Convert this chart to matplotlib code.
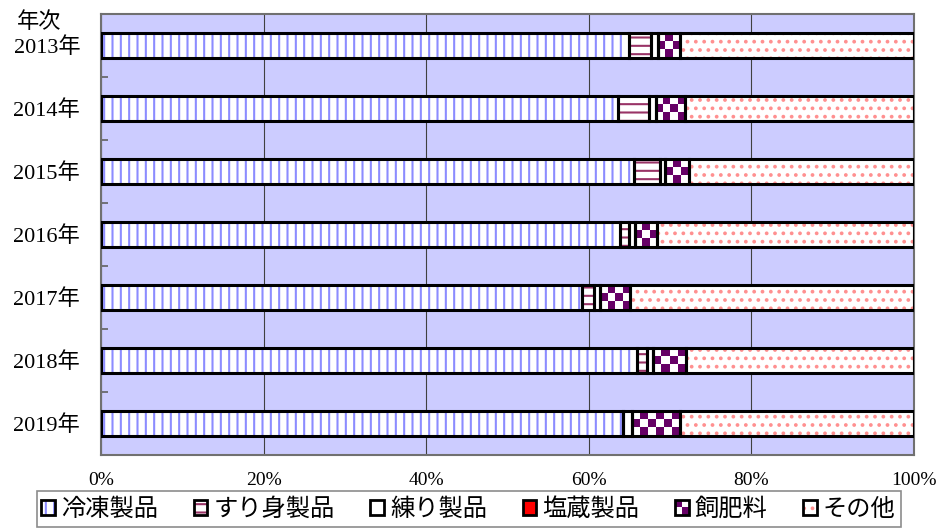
import numpy as np
import matplotlib
matplotlib.use("Agg")
import matplotlib.pyplot as plt
from matplotlib.patches import Patch, Rectangle
from matplotlib.colors import ListedColormap
from matplotlib.legend_handler import HandlerBase

years = ['2013年', '2014年', '2015年', '2016年', '2017年', '2018年', '2019年']
series_names = ['冷凍製品', 'すり身製品', '練り製品', '塩蔵製品', '飼肥料', 'その他']
frozen = [64.9, 63.6, 65.5, 63.8, 59.2, 65.9, 64.2]
surimi = [2.8, 3.8, 3.2, 1.2, 1.4, 1.2, 0.0]
neri = [0.8, 0.9, 0.7, 0.7, 0.8, 0.8, 1.1]
salted = [0.0, 0.0, 0.0, 0.0, 0.0, 0.0, 0.0]
feed = [2.7, 3.5, 2.9, 2.7, 3.7, 4.1, 5.9]
other = [28.8, 28.2, 27.7, 31.6, 34.9, 28.0, 28.8]
xticks = [0, 20, 40, 60, 80, 100]
xtick_labels = ['0%', '20%', '40%', '60%', '80%', '100%']

plt.rcParams['hatch.linewidth'] = 1.5
serif = ['Liberation Serif', 'Noto Sans CJK JP']
cjk = ['Noto Sans CJK JP', 'DejaVu Sans']

fig = plt.figure(figsize=(9.38, 5.30), dpi=100)
ax = fig.add_axes([101/938, 1-455/530, 813/938, 441/530])
ax.set_facecolor('#CCCCFF')

styles = [
    dict(kind='hatch', fc='white', hc='#8C8CFF', hatch='||'),
    dict(kind='hatch', fc='white', hc='#993366', hatch='--'),
    dict(kind='plain', fc='white', hc='white', hatch=None),
    dict(kind='plain', fc='#FF0000', hc='#FF0000', hatch=None),
    dict(kind='checker', fc='white', hc='#660066', hatch=None),
    dict(kind='hatch', fc='white', hc='#FF9090', hatch='..'),
]
data = [frozen, surimi, neri, salted, feed, other]
y = np.arange(len(years))
h = 0.4
left = np.zeros(len(years))
checker_cmap = ListedColormap(['white', '#660066'])
for vals, st in zip(data, styles):
    vals = np.array(vals, dtype=float)
    if st['kind'] == 'hatch':
        ax.barh(y, vals, left=left, height=h, color=st['fc'], edgecolor=st['hc'],
                hatch=st['hatch'], lw=0, zorder=2)
    elif st['kind'] == 'plain':
        ax.barh(y, vals, left=left, height=h, color=st['fc'], lw=0, zorder=2)
    else:
        bars = ax.barh(y, vals, left=left, height=h, color='white', lw=0, zorder=2)
        for bi, (yy, ll, ww) in enumerate(zip(y, left, vals)):
            ncols = max(2, int(round(ww)))
            img = np.indices((3, ncols)).sum(0) % 2
            im = ax.imshow(img, extent=(ll, ll + ww, yy + h/2, yy - h/2), cmap=checker_cmap,
                           aspect='auto', interpolation='nearest', zorder=2.5)
            im.set_clip_path(bars[bi])
    ax.barh(y, vals, left=left, height=h, fill=False, edgecolor='black', lw=2.2, zorder=3)
    left = left + vals

ax.set_xlim(0, 100)
ax.set_ylim(len(years) - 0.5, -0.5)
ax.set_xticks(xticks)
ax.set_xticklabels(xtick_labels, fontfamily=serif, fontsize=14)
ax.set_yticks(y)
ax.set_yticklabels(years, fontfamily=serif, fontsize=16)
ax.set_yticks(np.arange(0.5, len(years) - 0.5, 1.0), minor=True)
ax.tick_params(axis='y', which='major', length=0, pad=15)
ax.tick_params(axis='y', which='minor', length=5, direction='in', color='#606060', width=1.2)
ax.tick_params(axis='x', which='major', length=0, pad=12)
ax.xaxis.grid(True, color='#404040', lw=0.8)
ax.set_axisbelow(True)
for s in ax.spines.values():
    s.set_color('#707070')
    s.set_linewidth(1.5)

fig.text(17/938, 1-21/530, '年次', fontfamily=cjk, fontsize=16, va='center', ha='left')


class TupleOverlay(HandlerBase):
    def create_artists(self, legend, orig_handle, xdescent, ydescent, width, height, fontsize, trans):
        st = orig_handle.st
        x0, y0 = -xdescent, -ydescent
        arts = []
        if st['kind'] == 'checker':
            arts.append(Rectangle((x0, y0), width, height, facecolor='white', lw=0, transform=trans))
            arts.append(Rectangle((x0, y0 + height/2), width/2, height/2, facecolor=st['hc'], lw=0, transform=trans))
            arts.append(Rectangle((x0 + width/2, y0), width/2, height/2, facecolor=st['hc'], lw=0, transform=trans))
        elif st['kind'] == 'hatch':
            arts.append(Rectangle((x0, y0), width, height, facecolor=st['fc'], edgecolor=st['hc'],
                                  hatch=st['hatch'], lw=0, transform=trans))
        else:
            arts.append(Rectangle((x0, y0), width, height, facecolor=st['fc'], lw=0, transform=trans))
        arts.append(Rectangle((x0, y0), width, height, fill=False, edgecolor='black', lw=2.0, transform=trans))
        return arts


handles = []
for st in styles:
    p = Patch()
    p.st = st
    handles.append(p)

leg = fig.legend(handles, series_names, loc='upper center', bbox_to_anchor=(468.5/938, 1-491/530),
                 ncol=6, prop={'family': cjk, 'size': 17.5}, frameon=True, fancybox=False,
                 edgecolor='#707070', handlelength=0.55, handleheight=0.55, handletextpad=0.25,
                 columnspacing=1.48, borderpad=0.2, borderaxespad=0,
                 handler_map={Patch: TupleOverlay()})
leg.get_frame().set_linewidth(1.2)

fig.savefig('out.png', dpi=100)
